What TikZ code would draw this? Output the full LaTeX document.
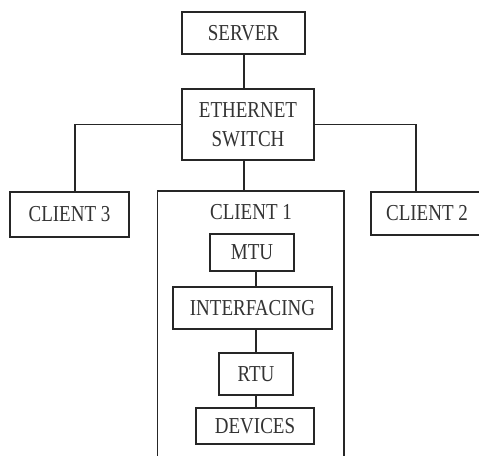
\documentclass[tikz,border=0pt]{standalone}
\usepackage{fontspec}
\setmainfont{Liberation Serif}
\newcommand{\tall}[1]{\scalebox{1}[1.2]{#1}}
\begin{document}
\begin{tikzpicture}[x=1pt,y=-1pt,
  box/.style={draw=black!85,line width=1.6pt,rectangle,inner sep=0pt,align=center,
    font=\fontsize{19}{29}\selectfont,text=black!80},
  lbl/.style={inner sep=0pt,font=\fontsize{19}{29}\selectfont,text=black!80},
  wire/.style={draw=black!85,line width=1.6pt}]
\useasboundingbox (0,0) rectangle (479,455);
\clip (0,0) rectangle (479,455);
\node[box,minimum width=123,minimum height=42] (server) at (243.5,33) {\tall{SERVER}};
\node[box,minimum width=132,minimum height=71] (switch) at (248,124.5) {\tall{ETHERNET}\\\tall{SWITCH}};
\node[box,minimum width=119,minimum height=45] (c3) at (69.5,214.5) {\tall{CLIENT 3}};
\node[box,minimum width=112,minimum height=43] (c2) at (427,213.5) {\tall{CLIENT 2}};
\node[box,minimum width=186.5,minimum height=300] (c1) at (250.75,341) {};
\node[lbl] (c1l) at (251,212) {\tall{CLIENT 1}};
\node[box,minimum width=84,minimum height=37] (mtu) at (252,252.5) {\tall{MTU}};
\node[box,minimum width=159,minimum height=42] (intf) at (252.5,308) {\tall{INTERFACING}};
\node[box,minimum width=74,minimum height=42] (rtu) at (256,374) {\tall{RTU}};
\node[box,minimum width=118,minimum height=36] (dev) at (255,426) {\tall{DEVICES}};
\draw[wire] ([xshift=-4]switch.north |- server.south) -- ([xshift=-4]switch.north);
\draw[wire] (switch.west) -| ([xshift=5.5]c3.north);
\draw[wire] (switch.east) -| ([xshift=-11]c2.north);
\draw[wire] ([xshift=-4]switch.south) -- ([xshift=-4]switch.south |- c1.north);
\draw[wire] ([xshift=4]mtu.south) -- ([xshift=4]mtu.south |- intf.north);
\draw[wire] (intf.south -| rtu.north) -- (rtu.north);
\draw[wire] (rtu.south) -- (rtu.south |- dev.north);
\end{tikzpicture}
\end{document}
